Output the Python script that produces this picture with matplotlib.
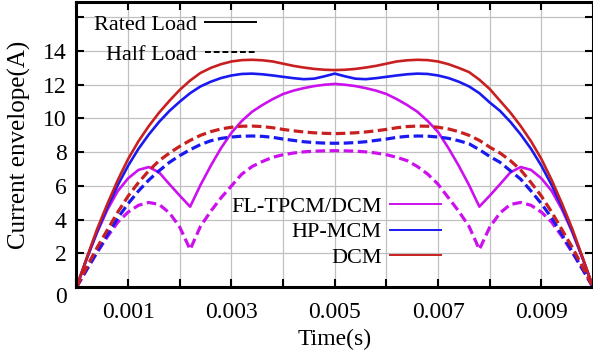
import numpy as np
import matplotlib
matplotlib.use('Agg')
import matplotlib.pyplot as plt
from matplotlib.lines import Line2D

plt.rcParams['font.family'] = ['Liberation Serif', 'DejaVu Serif']
plt.rcParams['font.size'] = 17

# time axis, 0.0002 s steps
t = np.linspace(0, 0.01, 51)

dcm_rated = [0, 1.75, 3.45, 4.95, 6.35, 7.6, 8.65, 9.55, 10.35, 11.05, 11.7, 12.25, 12.7, 13.0, 13.22,
             13.38, 13.46, 13.48, 13.45, 13.38, 13.25, 13.12, 13.02, 12.94, 12.89, 12.87,
             12.89, 12.94, 13.02, 13.12, 13.25, 13.38, 13.45, 13.48, 13.46, 13.38, 13.22, 13.0,
             12.75, 12.3, 11.75, 11.05, 10.35, 9.55, 8.65, 7.6, 6.35, 4.95, 3.45, 1.75, 0]
hpmcm_rated = [0, 1.7, 3.3, 4.75, 6.05, 7.2, 8.2, 9.05, 9.8, 10.45, 11.0, 11.5, 11.9, 12.18, 12.4,
               12.55, 12.64, 12.66, 12.62, 12.55, 12.47, 12.39, 12.33, 12.36, 12.5, 12.66,
               12.5, 12.36, 12.33, 12.39, 12.47, 12.55, 12.62, 12.66, 12.64, 12.55, 12.4, 12.18,
               11.9, 11.5, 10.95, 10.45, 9.8, 9.05, 8.2, 7.2, 6.05, 4.75, 3.3, 1.7, 0]
fl_rated = [0, 1.7, 3.25, 4.6, 5.7, 6.45, 6.95, 7.12, 6.8, 6.1, 5.42, 4.77, 6.05, 7.2, 8.25,
            9.15, 9.85, 10.4, 10.8, 11.15, 11.45, 11.65, 11.8, 11.92, 12.0, 12.05,
            12.0, 11.92, 11.8, 11.65, 11.45, 11.15, 10.8, 10.4, 9.85, 9.2, 8.25, 7.2,
            6.05, 4.77, 5.42, 6.1, 6.8, 7.12, 6.95, 6.45, 5.7, 4.6, 3.25, 1.7, 0]
dcm_half = [0, 1.2, 2.35, 3.4, 4.45, 5.4, 6.2, 6.9, 7.5, 7.95, 8.35, 8.7, 9.0, 9.22, 9.38,
            9.48, 9.54, 9.55, 9.52, 9.45, 9.35, 9.27, 9.2, 9.15, 9.12, 9.1,
            9.12, 9.15, 9.2, 9.27, 9.35, 9.45, 9.52, 9.55, 9.54, 9.48, 9.38, 9.22,
            9.0, 8.7, 8.3, 7.95, 7.5, 6.95, 6.2, 5.4, 4.45, 3.4, 2.35, 1.2, 0]
hpmcm_half = [0, 1.05, 2.1, 3.1, 4.1, 4.95, 5.7, 6.35, 6.9, 7.4, 7.8, 8.15, 8.45, 8.68, 8.82,
              8.9, 8.95, 8.96, 8.94, 8.88, 8.78, 8.7, 8.62, 8.57, 8.54, 8.53,
              8.54, 8.57, 8.62, 8.7, 8.78, 8.88, 8.94, 8.96, 8.95, 8.9, 8.82, 8.68,
              8.5, 8.15, 7.75, 7.4, 6.9, 6.4, 5.7, 4.95, 4.1, 3.1, 2.1, 1.05, 0]
fl_half = [0, 1.05, 2.05, 3.0, 3.85, 4.45, 4.85, 5.02, 4.9, 4.4, 3.55, 2.23, 3.6, 4.5, 5.3,
           6.0, 6.7, 7.15, 7.45, 7.7, 7.85, 7.95, 8.02, 8.06, 8.08, 8.09,
           8.08, 8.06, 8.02, 7.95, 7.85, 7.7, 7.5, 7.15, 6.7, 6.1, 5.3, 4.5,
           3.6, 2.23, 3.55, 4.4, 4.9, 5.02, 4.85, 4.45, 3.85, 3.0, 2.05, 1.05, 0]

c_fl = '#CC11EE'
c_hp = '#1A1AF0'
c_dcm = '#C82020'
dash = (0, (3, 1.4))

fig = plt.figure(figsize=(5.93, 3.54), dpi=100)
ax = fig.add_axes([0.129, 0.189, 0.871, 0.805])

lw = 1.9
ax.plot(t, fl_rated, color=c_fl, lw=lw)
ax.plot(t, hpmcm_rated, color=c_hp, lw=lw)
ax.plot(t, dcm_rated, color=c_dcm, lw=lw)
ax.plot(t, fl_half, color=c_fl, lw=lw + 0.4, ls=dash)
ax.plot(t, hpmcm_half, color=c_hp, lw=lw + 0.4, ls=dash)
ax.plot(t, dcm_half, color=c_dcm, lw=lw + 0.4, ls=dash)

ax.set_xlim(0, 0.01)
ax.set_ylim(0, 16.9)
xt = [0.001 * i for i in range(11)]
ax.set_xticks(xt)
ax.set_xticklabels(['' if i % 2 == 0 else '%.3f' % v for i, v in enumerate(xt)])
yt = list(range(0, 17, 2))
ax.set_yticks(yt)
ax.set_yticklabels([str(v) if v < 16 else '' for v in yt])
ax.get_yticklabels()[0].set_va('top')
ax.tick_params(direction='in', length=6, width=1.5, pad=7, top=True, right=True)
ax.tick_params(axis='x', pad=11)
ax.grid(True, color='#c0c0c0', lw=0.9)
for s in ax.spines.values():
    s.set_linewidth(2.2)

ax.set_xlabel('Time(s)', labelpad=4, fontsize=17)
ax.set_ylabel('Current envelope(A)', labelpad=9, fontsize=18)

h1 = [Line2D([], [], color='black', lw=1.4), Line2D([], [], color='black', lw=1.4, ls=(0, (3, 1.5)))]
leg1 = ax.legend(h1, ['Rated Load', 'Half Load'], loc='upper right', bbox_to_anchor=(0.347, 0.958),
                 frameon=False, markerfirst=False, handlelength=2.3, handletextpad=0.36,
                 labelspacing=0.45, borderpad=0, borderaxespad=0, fontsize=16)
ax.add_artist(leg1)
h2 = [Line2D([], [], color=c_fl, lw=1.4), Line2D([], [], color=c_hp, lw=1.4), Line2D([], [], color=c_dcm, lw=1.4)]
ax.legend(h2, ['FL-TPCM/DCM', 'HP-MCM', 'DCM'], loc='upper right', bbox_to_anchor=(0.705, 0.318),
          frameon=False, markerfirst=False, handlelength=2.3, handletextpad=0.36,
          labelspacing=0.22, borderpad=0, borderaxespad=0, fontsize=16)

fig.savefig('out.png', dpi=100)
